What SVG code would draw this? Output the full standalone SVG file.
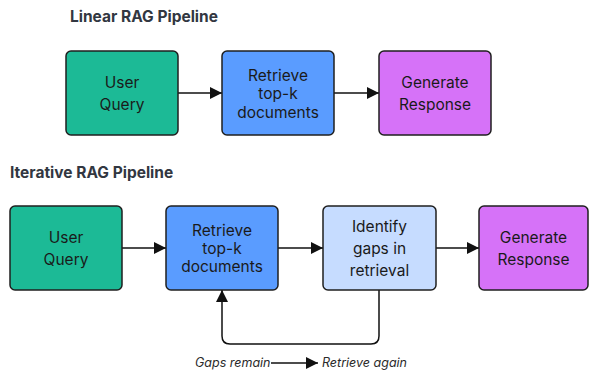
<svg xmlns="http://www.w3.org/2000/svg" width="589" height="373" viewBox="0 0 589 373">
<style>
.title{font-family:Inter,"Liberation Sans",sans-serif;font-weight:700;font-size:15.5px;fill:#323741}
.box{stroke:#1f1f1f;stroke-width:1.5}
.lbl{font-family:Inter,"Liberation Sans",sans-serif;font-size:15.5px;fill:#1a1a1a;text-anchor:middle}
.leg{font-family:Inter,"Liberation Sans",sans-serif;font-style:italic;font-size:12.5px;fill:#2a2a2a}
.con{fill:none;stroke:#111;stroke-width:1.5}
.green{fill:#1cba96}
.blue{fill:#5a9cff}
.purple{fill:#d672f8}
.light{fill:#c6dcff}
</style>
<defs>
<marker id="ah" viewBox="0 0 10 10" refX="10" refY="5" markerUnits="userSpaceOnUse" markerWidth="12" markerHeight="12" orient="auto">
<path d="M0,0 L10,5 L0,10 z" fill="#111"/>
</marker>
</defs>
<rect width="589" height="373" fill="#fff"/>
<text class="title" x="70" y="22">Linear RAG Pipeline</text>
<text class="title" x="10" y="178">Iterative RAG Pipeline</text>

<g id="connectors">
<line class="con" x1="178" y1="93" x2="222" y2="93" marker-end="url(#ah)"/>
<line class="con" x1="334" y1="93" x2="379" y2="93" marker-end="url(#ah)"/>
<line class="con" x1="122" y1="248" x2="166" y2="248" marker-end="url(#ah)"/>
<line class="con" x1="278" y1="248" x2="323" y2="248" marker-end="url(#ah)"/>
<line class="con" x1="436" y1="248" x2="479" y2="248" marker-end="url(#ah)"/>
<path class="con" d="M379,290 V336 Q379,344 371,344 H230 Q222,344 222,336 V290" marker-end="url(#ah)"/>
<line class="con" x1="271" y1="363" x2="318" y2="363" marker-end="url(#ah)"/>
</g>

<g id="l-user">
<rect class="box green" x="66" y="51" width="112" height="84" rx="5"/>
<text class="lbl" x="122" y="88">User</text>
<text class="lbl" x="122" y="110">Query</text>
</g>
<g id="l-retrieve">
<rect class="box blue" x="222" y="51" width="112" height="84" rx="5"/>
<text class="lbl" x="278" y="80.5">Retrieve</text>
<text class="lbl" x="278" y="99">top-k</text>
<text class="lbl" x="278" y="117.5">documents</text>
</g>
<g id="l-generate">
<rect class="box purple" x="379" y="51" width="112" height="84" rx="5"/>
<text class="lbl" x="435" y="87.5">Generate</text>
<text class="lbl" x="435" y="110">Response</text>
</g>

<g id="i-user">
<rect class="box green" x="10" y="206" width="112" height="84" rx="5"/>
<text class="lbl" x="66" y="243">User</text>
<text class="lbl" x="66" y="265">Query</text>
</g>
<g id="i-retrieve">
<rect class="box blue" x="166" y="206" width="112" height="84" rx="5"/>
<text class="lbl" x="222" y="235.5">Retrieve</text>
<text class="lbl" x="222" y="253.5">top-k</text>
<text class="lbl" x="222" y="271.5">documents</text>
</g>
<g id="i-identify">
<rect class="box light" x="323" y="206" width="113" height="84" rx="5"/>
<text class="lbl" x="379.5" y="231.5">Identify</text>
<text class="lbl" x="379.5" y="253.5">gaps in</text>
<text class="lbl" x="379.5" y="276">retrieval</text>
</g>
<g id="i-generate">
<rect class="box purple" x="479" y="206" width="109" height="84" rx="5"/>
<text class="lbl" x="533.5" y="242.5">Generate</text>
<text class="lbl" x="533.5" y="265">Response</text>
</g>

<text class="leg" x="195" y="367">Gaps remain</text>
<text class="leg" x="322" y="367">Retrieve again</text>
</svg>
